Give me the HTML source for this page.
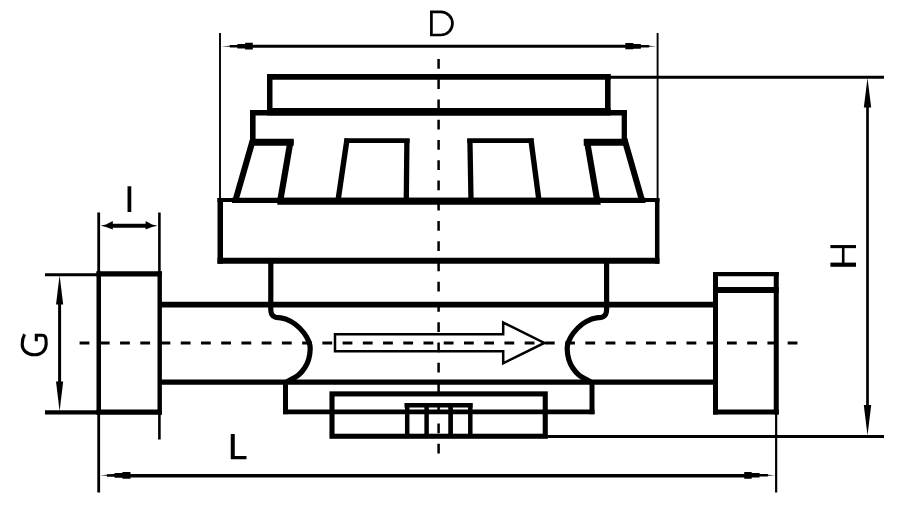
<!DOCTYPE html>
<html>
<head>
<meta charset="utf-8">
<title>Water meter dimensions</title>
<style>
  html, body { margin: 0; padding: 0; background: #ffffff; }
  body { width: 921px; height: 506px; overflow: hidden; font-family: "Liberation Sans", sans-serif; }
  svg { display: block; }
</style>
</head>
<body>
<svg width="921" height="506" viewBox="0 0 921 506">
  <rect x="0" y="0" width="921" height="506" fill="#ffffff"/>
  <g fill="none" stroke="#000000" stroke-linecap="butt" stroke-linejoin="miter" stroke-miterlimit="10">

    <!-- ===== centre lines (dashed) ===== -->
    <line x1="438.6" y1="58.9" x2="438.6" y2="454" stroke-width="2.5" stroke-dasharray="9.8 10.45"/>
    <line x1="79.6" y1="343" x2="798.2" y2="343" stroke-width="2.8" stroke-dasharray="9.8 10.43"/>

    <!-- ===== D dimension ===== -->
    <line x1="220" y1="33" x2="220" y2="199" stroke-width="1.9"/>
    <line x1="657.6" y1="33" x2="657.6" y2="199" stroke-width="1.9"/>
    <line x1="240" y1="46.25" x2="637" y2="46.25" stroke-width="3"/>

    <!-- ===== H dimension ===== -->
    <line x1="608" y1="77.35" x2="884" y2="77.35" stroke-width="3"/>
    <line x1="545" y1="436.5" x2="884" y2="436.5" stroke-width="3"/>
    <line x1="867.5" y1="100" x2="867.5" y2="412" stroke-width="2.7"/>

    <!-- ===== G dimension ===== -->
    <line x1="45" y1="274.7" x2="99" y2="274.7" stroke-width="3"/>
    <line x1="45" y1="412.4" x2="99" y2="412.4" stroke-width="4.3"/>
    <line x1="59.6" y1="298" x2="59.6" y2="388" stroke-width="3"/>

    <!-- ===== I dimension ===== -->
    <line x1="98.7" y1="212.5" x2="98.7" y2="492.5" stroke-width="2.8"/>
    <line x1="159.4" y1="212.5" x2="159.4" y2="439.5" stroke-width="2.6"/>
    <line x1="108" y1="225.75" x2="150" y2="225.75" stroke-width="3.9"/>

    <!-- ===== L dimension ===== -->
    <line x1="776.15" y1="410" x2="776.15" y2="492.5" stroke-width="2.2"/>
    <line x1="128" y1="475.75" x2="748" y2="475.75" stroke-width="3.6"/>

    <!-- ===== top cap ===== -->
    <line x1="267" y1="76.9" x2="610.6" y2="76.9" stroke-width="5.8"/>
    <line x1="269.75" y1="74" x2="269.75" y2="110" stroke-width="5.5"/>
    <line x1="607.8" y1="74" x2="607.8" y2="110" stroke-width="5.6"/>
    <line x1="250" y1="112.8" x2="627" y2="112.8" stroke-width="5.6"/>
    <line x1="267" y1="111.85" x2="610.6" y2="111.85" stroke-width="7.5"/>
    <line x1="252.8" y1="110" x2="252.8" y2="141" stroke-width="5.6"/>
    <line x1="624.3" y1="110" x2="624.3" y2="141" stroke-width="5.3"/>

    <!-- ===== ribs / trapezoids ===== -->
    <!-- left outer -->
    <line x1="250" y1="142.25" x2="293.75" y2="142.25" stroke-width="7"/>
    <line x1="253.1" y1="139" x2="235.3" y2="201" stroke-width="6.1"/>
    <line x1="290.7" y1="140" x2="280.2" y2="201" stroke-width="6.2"/>
    <!-- right outer -->
    <line x1="583.75" y1="142.25" x2="627.5" y2="142.25" stroke-width="7"/>
    <line x1="624.4" y1="139" x2="642.2" y2="201" stroke-width="6.1"/>
    <line x1="586.8" y1="140" x2="597.3" y2="201" stroke-width="6.2"/>
    <!-- mid left -->
    <line x1="344.5" y1="140.6" x2="409.6" y2="140.6" stroke-width="4.7"/>
    <line x1="347.1" y1="138.6" x2="338.1" y2="200" stroke-width="5.4"/>
    <line x1="406.9" y1="139" x2="406.3" y2="200" stroke-width="5.3"/>
    <!-- mid right -->
    <line x1="467.2" y1="140.6" x2="533.5" y2="140.6" stroke-width="4.7"/>
    <line x1="530.8" y1="138.6" x2="538.9" y2="200" stroke-width="5.4"/>
    <line x1="469.9" y1="139" x2="471" y2="200" stroke-width="5.3"/>

    <!-- ===== flange ===== -->
    <line x1="217.5" y1="200.05" x2="659.4" y2="200.05" stroke-width="4"/>
    <line x1="232" y1="200.4" x2="645.5" y2="200.4" stroke-width="5.3"/>
    <line x1="277.3" y1="201.3" x2="600.6" y2="201.3" stroke-width="7.1"/>
    <line x1="220.25" y1="198" x2="220.25" y2="263.75" stroke-width="5.5"/>
    <line x1="657.2" y1="198" x2="657.2" y2="263.75" stroke-width="4.5"/>
    <line x1="217.5" y1="260.8" x2="659.4" y2="260.8" stroke-width="5.9"/>

    <!-- ===== pipe ===== -->
    <line x1="159" y1="304.6" x2="715" y2="304.6" stroke-width="5.7"/>
    <line x1="159" y1="382" x2="715" y2="382" stroke-width="5.25"/>

    <!-- ===== body sides + arcs ===== -->
    <path d="M270.8,262 V296 C270.80,298.30 270.63,306.73 270.80,309.80 C270.97,312.87 271.07,313.17 271.80,314.40 C272.53,315.63 273.72,316.62 275.20,317.20 C276.68,317.78 278.98,317.60 280.70,317.90 C282.42,318.20 283.12,317.98 285.50,319.00 C287.88,320.02 291.92,321.67 295.00,324.00 C298.08,326.33 301.67,330.00 304.00,333.00 C306.33,336.00 307.97,339.33 309.00,342.00 C310.03,344.67 310.27,346.08 310.20,349.00 C310.13,351.92 309.53,356.33 308.60,359.50 C307.67,362.67 306.28,365.42 304.60,368.00 C302.92,370.58 300.83,373.03 298.50,375.00 C296.17,376.97 292.68,378.55 290.60,379.80 C288.52,381.05 286.77,382.05 286.00,382.50" stroke-width="5.2"/>
    <path d="M606.6,262 V296 C606.60,298.30 606.77,306.73 606.60,309.80 C606.43,312.87 606.33,313.17 605.60,314.40 C604.87,315.63 603.68,316.62 602.20,317.20 C600.72,317.78 598.42,317.60 596.70,317.90 C594.98,318.20 594.28,317.98 591.90,319.00 C589.52,320.02 585.48,321.67 582.40,324.00 C579.32,326.33 575.73,330.00 573.40,333.00 C571.07,336.00 569.43,339.33 568.40,342.00 C567.37,344.67 567.13,346.08 567.20,349.00 C567.27,351.92 567.87,356.33 568.80,359.50 C569.73,362.67 571.12,365.42 572.80,368.00 C574.48,370.58 576.57,373.03 578.90,375.00 C581.23,376.97 584.72,378.55 586.80,379.80 C588.88,381.05 590.63,382.05 591.40,382.50" stroke-width="5.2"/>

    <!-- ===== lower body ===== -->
    <line x1="285.5" y1="382" x2="285.5" y2="414.2" stroke-width="5"/>
    <line x1="592" y1="382" x2="592" y2="414.2" stroke-width="5"/>
    <line x1="283" y1="411.9" x2="594.5" y2="411.9" stroke-width="4.6"/>

    <!-- ===== inner bottom box ===== -->
    <rect x="332" y="393.9" width="213.25" height="42.35" stroke-width="5.1"/>

    <!-- ===== small nut ===== -->
    <line x1="404.5" y1="405.25" x2="472.5" y2="405.25" stroke-width="4.5"/>
    <line x1="407.2" y1="403" x2="407.2" y2="436" stroke-width="4.5"/>
    <line x1="470.3" y1="403" x2="470.3" y2="436" stroke-width="4.5"/>
    <line x1="426.6" y1="403" x2="426.6" y2="436" stroke-width="4.5"/>
    <line x1="450.6" y1="403" x2="450.6" y2="436" stroke-width="4.7"/>

    <!-- ===== left end nut ===== -->
    <line x1="96.5" y1="273.9" x2="161.9" y2="273.9" stroke-width="5.2"/>
    <line x1="96.5" y1="412.2" x2="161.9" y2="412.2" stroke-width="5.2"/>
    <line x1="98.75" y1="271.5" x2="98.75" y2="414.6" stroke-width="4.5"/>
    <line x1="159.7" y1="271.5" x2="159.7" y2="414.6" stroke-width="4.4"/>

    <!-- ===== right end nut ===== -->
    <line x1="713" y1="274.1" x2="778.75" y2="274.1" stroke-width="4.4"/>
    <line x1="713" y1="290" x2="778.75" y2="290" stroke-width="6"/>
    <line x1="713" y1="412" x2="778.75" y2="412" stroke-width="5"/>
    <line x1="715.5" y1="272" x2="715.5" y2="414.5" stroke-width="5"/>
    <line x1="776.25" y1="272" x2="776.25" y2="414.5" stroke-width="5"/>

    <!-- ===== flow arrow ===== -->
    <path d="M503.2,334.25 H335 V351.25 H503.2 V363.3 L544.3,342.9 L503.2,322.6 Z" stroke-width="2.5" fill="none"/>

    <!-- ===== letters (stroked) ===== -->
    <path d="M431.4,11.9 H440.9 A11.55,11.55 0 0 1 440.9,35 H431.4 Z" stroke-width="2.7"/>
    <path d="M232.7,434 V459.3 M231,457.7 H246.5" stroke-width="3.3"/>
    <line x1="232.7" y1="434" x2="232.7" y2="459" stroke-width="3.9"/>
    <line x1="129.4" y1="186.25" x2="129.4" y2="212" stroke-width="3.75"/>
    <line x1="830.4" y1="246.6" x2="856" y2="246.6" stroke-width="3.1"/>
    <line x1="830.4" y1="264.7" x2="856" y2="264.7" stroke-width="4.2"/>
    <line x1="843.2" y1="246" x2="843.2" y2="265" stroke-width="2.6"/>
    <path d="M24.6,334.2 C22.8,337.5 22.2,340.8 22.2,344.2 C22.2,350.2 27,354.8 34.4,354.8 C41.8,354.8 46.2,350 46.2,343.5 C46.2,338 45.8,335.3 42,335.3 H36.3 V341.3" stroke-width="3.1"/>
  </g>

  <!-- ===== arrow heads ===== -->
  <g fill="#000000" stroke="none">
    <!-- D -->
    <polygon points="221.5,46.2 229.7,45.8 230,45 237.3,44.9 237.6,44 245,43.9 245.3,42.8 252.8,42.7 252.8,49.6 245.3,49.5 245,48.6 237.6,48.5 237.3,47.4 230,47.4 229.7,46.7"/>
    <polygon points="656.2,46.2 649.3,45.8 649,45 641,44.9 640.7,44 633.6,43.9 633.3,43 625.3,43 625.3,49.3 633.3,49.3 633.6,48.7 640.7,48.7 641,47.4 649,47.4 649.3,46.7"/>
    <!-- H -->
    <polygon points="867.5,77.8 863.8,107.4 871.2,107.4"/>
    <polygon points="867.5,435.8 863.8,405 871.2,405"/>
    <!-- G -->
    <polygon points="59.6,275.2 56,304.6 63.2,304.6"/>
    <polygon points="59.6,411.3 56,381.4 63.2,381.4"/>
    <!-- I -->
    <polygon points="100.6,225.7 106,224.4 112.8,221 112.8,229.4 106,226.9"/>
    <polygon points="157.6,225.7 152,224.4 145.6,221 145.6,229.4 152,226.9"/>
    <!-- L -->
    <polygon points="100,475.25 106.8,474.7 107,474.2 114.4,474.1 114.6,473 122.3,472.9 122.5,472 130.5,472 130.5,478.7 122.5,478.7 122.3,477.7 114.6,477.7 114.4,476.8 107,476.8 106.8,475.8"/>
    <polygon points="775.2,475.25 768,474.7 767.8,474 759.7,473.9 759.5,473 751.8,473 751.6,472 744.2,472 744.2,478.7 751.6,478.7 751.8,477.4 759.5,477.4 759.7,476.6 767.8,476.6 768,475.8"/>
  </g>
</svg>
</body>
</html>
